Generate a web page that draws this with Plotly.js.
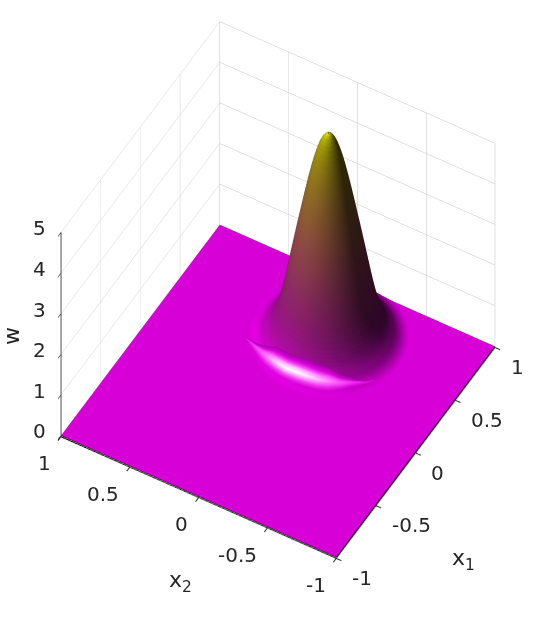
<!DOCTYPE html>
<html>
<head>
<meta charset="utf-8">
<script src="https://cdn.plot.ly/plotly-3.0.1.min.js"></script>
<style>html,body{margin:0;padding:0;background:#fff}</style>
</head>
<body>
<div id="plot" style="width:540px;height:633px"></div>
<script>
// the peak is round, so it is kept as a height profile over distance from its centre
var peakX1 = 0.55
var peakX2 = -0.05
var radius = [0.004, 0.01, 0.02, 0.03, 0.04, 0.05, 0.06, 0.07, 0.08, 0.09, 0.1, 0.11, 0.12, 0.13, 0.14, 0.15, 0.16, 0.17, 0.18, 0.19, 0.2, 0.21, 0.22, 0.23, 0.24, 0.25, 0.26, 0.27, 0.28, 0.29, 0.3, 0.31, 0.32, 0.33, 0.34, 0.35, 0.36, 0.37, 0.38, 0.39, 0.4, 0.41, 0.42, 0.43, 0.44, 0.45, 0.46, 0.47, 0.48, 0.49, 0.5]
var profile = [5, 4.992, 4.969, 4.931, 4.878, 4.811, 4.73, 4.636, 4.53, 4.412, 4.285, 4.148, 4.004, 3.852, 3.695, 3.533, 3.368, 3.201, 3.033, 2.864, 2.697, 2.525, 2.35, 2.175, 2, 1.825, 1.65, 1.475, 1.305, 1.145, 0.995, 0.86, 0.74, 0.635, 0.545, 0.465, 0.395, 0.335, 0.283, 0.238, 0.198, 0.16, 0.125, 0.095, 0.07, 0.05, 0.033, 0.02, 0.01, 0.004, 0]

var floorX = [-1, 0, 1]
var floorW = [[0, 0, 0], [0, 0, 0], [0, 0, 0]]

// bright arc at the foot of the peak: where it runs and how strong it is along the way
var glowAngle = [120, 130, 140, 150, 160, 170, 180, 190, 200, 210, 220, 230, 240, 250]
var glowRadius = [0.54, 0.48, 0.45, 0.43, 0.42, 0.415, 0.41, 0.41, 0.415, 0.42, 0.43, 0.44, 0.46, 0.48]
var glowLevel = [0.5, 0.65, 0.75, 0.85, 0.95, 1, 1, 0.97, 0.9, 0.82, 0.72, 0.63, 0.56, 0.5]
var glowOffset = [-0.05, -0.03, -0.015, 0, 0.015, 0.03, 0.05]
var glowShape = [0, 0.35, 0.75, 1, 0.7, 0.3, 0]
var glowBase = [0.32, 0.42, 0.5, 0.5, 0.5, 0.5, 0.5]

var xyTicks = [-1, -0.5, 0, 0.5, 1]
var wTicks = [0, 1, 2, 3, 4, 5]

var textColor = '#262626'
var tickFont = { family: 'DejaVu Sans', size: 20, color: textColor }
var titleFont = { family: 'DejaVu Sans', size: 22, color: textColor }

// ring positions around the peak, the seam sits behind it
var angle = []
for (var a = 30; a <= 390; a += 3) {
  angle.push(a)
}

function ringX(r, a) { return peakX1 + r * Math.cos(a * Math.PI / 180) }
function ringY(r, a) { return peakX2 + r * Math.sin(a * Math.PI / 180) }

function heightAt(r) {
  for (var i = 1; i < radius.length; i++) {
    if (r <= radius[i]) {
      var f = (r - radius[i - 1]) / (radius[i] - radius[i - 1])
      return profile[i - 1] + f * (profile[i] - profile[i - 1])
    }
  }
  return 0
}

var peakGridX = radius.map(function (r) {
  return angle.map(function (a) { return ringX(r, a) })
})
var peakGridY = radius.map(function (r) {
  return angle.map(function (a) { return ringY(r, a) })
})
var peakGridW = profile.map(function (h) {
  return angle.map(function () { return h })
})

// the arc narrows to nothing at both ends
function glowR(d, j) {
  return glowRadius[j] + d * Math.min(1, (glowLevel[j] - 0.5) * 3)
}

var glowGridX = glowOffset.map(function (d) {
  return glowAngle.map(function (a, j) { return ringX(glowR(d, j), a) })
})
var glowGridY = glowOffset.map(function (d) {
  return glowAngle.map(function (a, j) { return ringY(glowR(d, j), a) })
})
var glowGridW = glowOffset.map(function (d) {
  return glowAngle.map(function (a, j) { return heightAt(glowR(d, j)) + 0.02 })
})
var glowGridC = glowShape.map(function (s, i) {
  return glowLevel.map(function (g) { return glowBase[i] + (g - 0.5) * s })
})

function axis(range, ticks) {
  return {
    range: range,
    tickvals: ticks,
    showticklabels: false,
    title: { text: '' },
    ticks: 'outside',
    ticklen: 6,
    tickwidth: 2,
    tickcolor: textColor,
    showline: true,
    linecolor: '#000',
    linewidth: 2,
    showgrid: true,
    gridcolor: '#c4c4c4',
    gridwidth: 1,
    zeroline: false,
    showbackground: false,
    showspikes: false,
  }
}

// gl tick labels are not real text, so labels are scene annotations at the axis edges
function label(x, y, z, text, dx, dy, font) {
  return { x: x, y: y, z: z, text: text, showarrow: false, font: font, xanchor: 'center', yanchor: 'middle', xshift: dx, yshift: dy }
}

var x1Dx = { 1: 22, 2: 26, 3: 32, 4: 36 }
var x2Dx = { 1: -17, 2: -20, 3: -27, 4: -30 }

var annotations = []
xyTicks.forEach(function (t) {
  var text = String(t)
  annotations.push(label(t, -1, 0, text, x1Dx[text.length], -21, tickFont))
  annotations.push(label(-1, t, 0, text, x2Dx[text.length], -28, tickFont))
})
wTicks.forEach(function (t) {
  annotations.push(label(-1, 1, t, String(t), -22, 4, tickFont))
})
annotations.push(label(0, -1, 0, 'x<sub>1</sub>', 48, -108, titleFont))
annotations.push(label(-1, 0, 0, 'x<sub>2</sub>', -18, -85, titleFont))
var wTitle = label(-1, 1, 2.5, 'w', -49, -2, titleFont)
wTitle.textangle = -90
annotations.push(wTitle)

var shading = {
  cmin: 0,
  cmax: 5,
  colorscale: [[0, '#ff00ff'], [1, '#ffff00']],
  showscale: false,
  // the orthographic camera puts plotly's specular on the wrong side, hence the glow trace
  lighting: { ambient: 0.18, diffuse: 0.72, specular: 0, roughness: 0.5, fresnel: 0 },
  lightposition: { x: -5500, y: 6400, z: -25 },
}

var floor = Object.assign({ type: 'surface', x: floorX, y: floorX, z: floorW }, shading)
var peak = Object.assign({ type: 'surface', x: peakGridX, y: peakGridY, z: peakGridW }, shading)
var glow = {
  type: 'surface',
  x: glowGridX,
  y: glowGridY,
  z: glowGridW,
  surfacecolor: glowGridC,
  cmin: 0,
  cmax: 1,
  colorscale: [[0, '#40004c'], [0.5, '#d900d9'], [0.75, '#ff60ff'], [1, '#ffffff']],
  showscale: false,
  lighting: { ambient: 1, diffuse: 0, specular: 0, roughness: 0.5, fresnel: 0 },
}

// plain dark box edges, the native axis lines come out too faint
function edge(x, y, z) {
  return { type: 'scatter3d', mode: 'lines', x: x, y: y, z: z, line: { color: textColor, width: 1.5 }, hoverinfo: 'skip' }
}
var wEdge = edge([-1, -1], [1, 1], [wTicks[0], wTicks[wTicks.length - 1]])
var x1Edge = edge([xyTicks[0], xyTicks[4]], [-1, -1], [0, 0])
var x2Edge = edge([-1, -1], [xyTicks[0], xyTicks[4]], [0, 0])

var layout = {
  width: 540,
  height: 633,
  margin: { l: 0, r: 0, t: 0, b: 0 },
  paper_bgcolor: '#fff',
  showlegend: false,
  scene: {
    domain: { x: [0.03, 1], y: [0.1, 0.984] },
    aspectmode: 'manual',
    aspectratio: { x: 1.135, y: 1.135, z: 1.135 },
    camera: {
      projection: { type: 'orthographic' },
      eye: { x: -0.981, y: -0.566, z: 1.35 },
      up: { x: 0, y: 0, z: 1 },
    },
    xaxis: axis([-1, 1], xyTicks),
    yaxis: axis([-1, 1], xyTicks),
    // floor sits a hair above the bottom plane so the grid does not show through
    zaxis: axis([-0.03, 5], wTicks),
    annotations: annotations,
  },
}

Plotly.newPlot('plot', [floor, peak, glow, wEdge, x1Edge, x2Edge], layout, { displayModeBar: false })
</script>
</body>
</html>
